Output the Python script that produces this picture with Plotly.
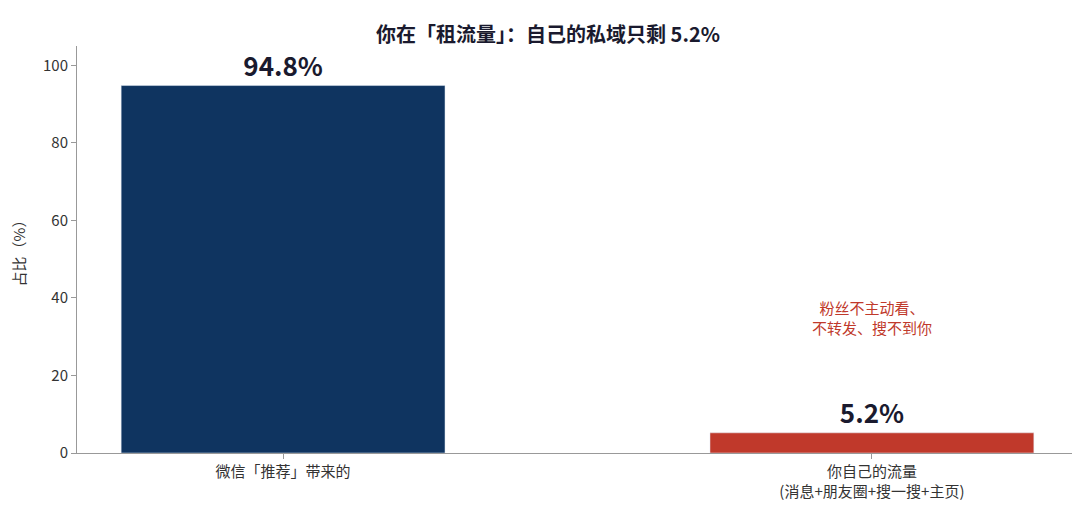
import plotly.graph_objects as go

categories = ["微信「推荐」带来的", "你自己的流量<br>(消息+朋友圈+搜一搜+主页)"]
values = [94.8, 5.2]
labels = ["94.8%", "5.2%"]
colors = ["#0f3460", "#c0392b"]
note = "粉丝不主动看、<br>不转发、搜不到你"

font = "Noto Sans CJK SC"

fig = go.Figure(go.Bar(
    x=[0, 1], y=values, marker_color=colors, width=0.55,
    text=labels, textposition="outside", cliponaxis=False,
    textfont=dict(size=26, color="#1a1a2e", family=font, weight="bold"),
))
fig.add_annotation(x=1, y=35, text=note, showarrow=False,
                   font=dict(size=15, color="#c0392b", family=font))
fig.update_layout(
    width=1080, height=512, plot_bgcolor="white", paper_bgcolor="white",
    margin=dict(l=66, r=10, t=38, b=67),
    font=dict(family=font, size=15, color="#333"),
    title=dict(text="<b>你在「租流量」：自己的私域只剩 5.2%</b>", x=0.5, y=0.96,
               xanchor="center", font=dict(size=20, color="#1a1a2e")),
    showlegend=False,
)
fig.update_xaxes(tickvals=[0, 1], ticktext=categories, range=[-0.35, 1.35],
                 showline=True, linecolor="#999", ticks="outside", tickcolor="#999",
                 showgrid=False)
fig.update_yaxes(range=[0, 105], title_text="占比（%）", title_font_size=15,
                 showline=True, linecolor="#999",
                 ticks="outside", tickcolor="#999", showgrid=False, zeroline=False,
                 tickvals=[0, 20, 40, 60, 80, 100])
fig.write_html("out.html")
